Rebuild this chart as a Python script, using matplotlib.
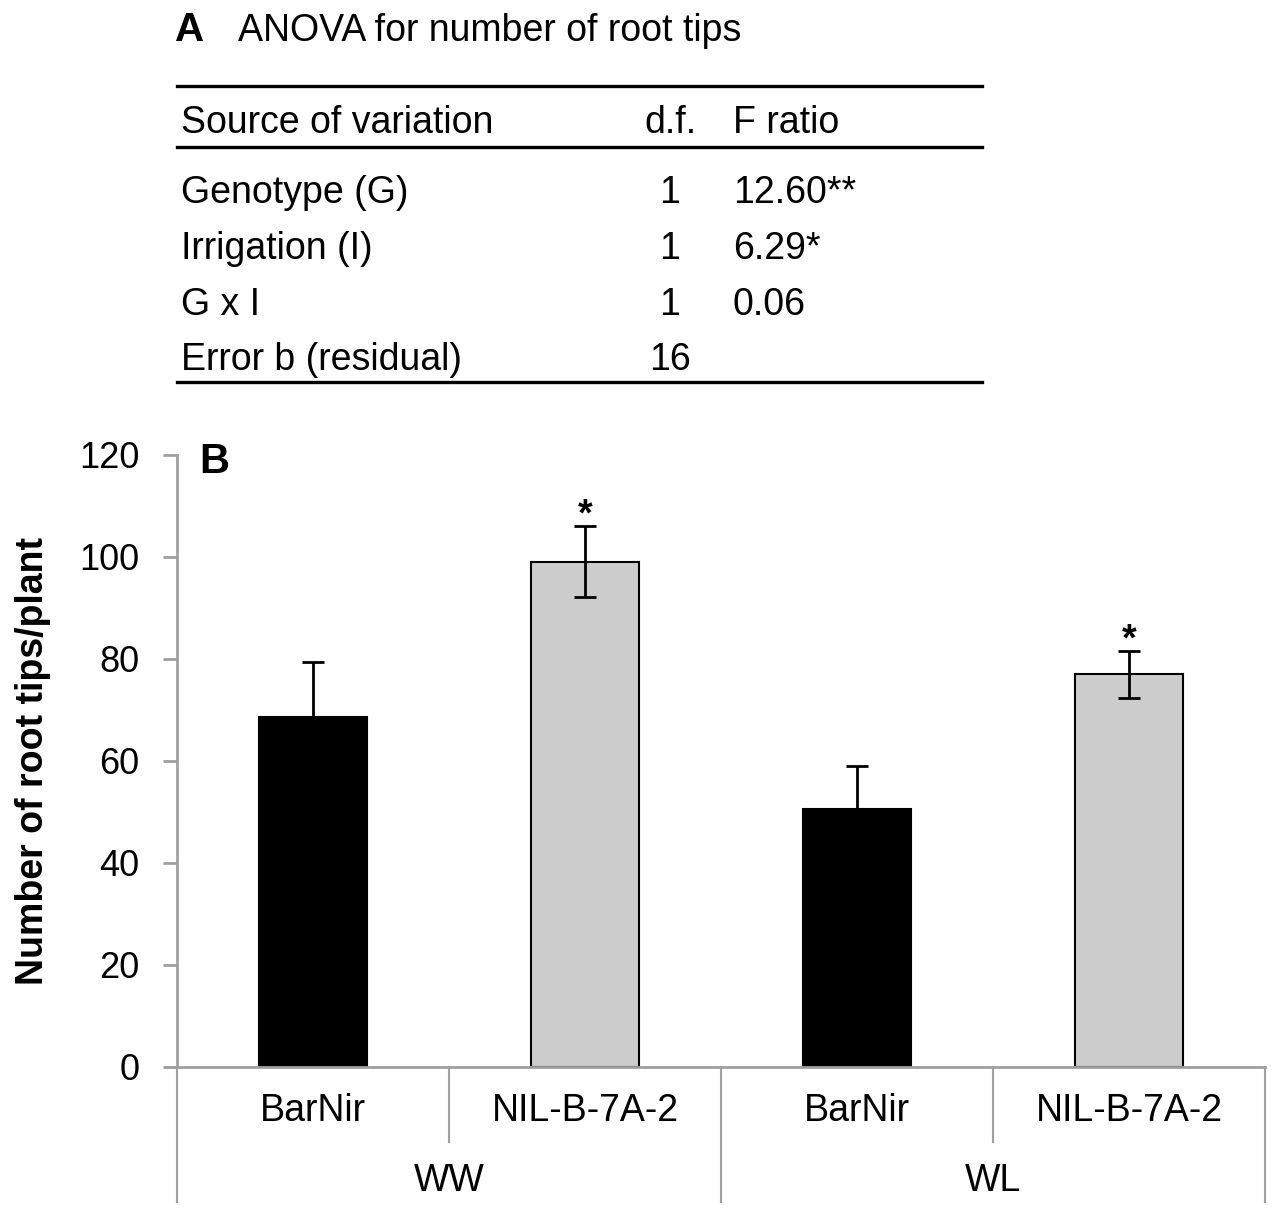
import matplotlib
matplotlib.use("Agg")

import matplotlib.pyplot as plt
from matplotlib.lines import Line2D

plt.rcParams["font.family"] = ["Liberation Sans", "DejaVu Sans"]

# panel A: ANOVA table
anova_title = "ANOVA for number of root tips"
anova_header = ["Source of variation", "d.f.", "F ratio"]
anova_sources = ["Genotype (G)", "Irrigation (I)", "G x I", "Error b (residual)"]
anova_df = ["1", "1", "1", "16"]
anova_f = ["12.60**", "6.29*", "0.06", ""]

# panel B: root tips per plant
irrigation = ["WW", "WL"]
genotypes = ["BarNir", "NIL-B-7A-2"]
means = [68.7, 99.1, 50.6, 77.0]
errors = [10.8, 7.0, 8.4, 4.6]
signif = ["", "*", "", "*"]
bar_colors = ["black", "#cccccc", "black", "#cccccc"]

W, H = 1272, 1216
fig = plt.figure(figsize=(W / 100, H / 100), dpi=100)


def fx(px):
    return px / W


def fy(py):
    return 1 - py / H


# ---- table ----
fig.text(fx(175), fy(30), "A", fontsize=29, fontweight="bold", va="center", ha="left")
fig.text(fx(238), fy(31), anova_title, fontsize=27, va="center", ha="left")
for y in (86, 147, 382):
    fig.add_artist(Line2D([fx(177), fx(982)], [fy(y), fy(y)], color="black", lw=2.4))

fig.text(fx(181), fy(123), anova_header[0], fontsize=27, va="center", ha="left")
fig.text(fx(670), fy(123), anova_header[1], fontsize=27, va="center", ha="center")
fig.text(fx(733), fy(123), anova_header[2], fontsize=27, va="center", ha="left")

row_y = [193, 249, 305, 360]
for y, src, dof, fr in zip(row_y, anova_sources, anova_df, anova_f):
    fig.text(fx(181), fy(y), src, fontsize=27, va="center", ha="left")
    fig.text(fx(670), fy(y), dof, fontsize=27, va="center", ha="center")
    fig.text(fx(733), fy(y), fr, fontsize=27, va="center", ha="left")

# ---- bar chart ----
ax_left, ax_right, ax_top, ax_bottom = 177, 1265, 455, 1067
ax = fig.add_axes([fx(ax_left), fy(ax_bottom), (ax_right - ax_left) / W,
                   (ax_bottom - ax_top) / H])

x_pos = [0.5, 1.5, 2.5, 3.5]
ax.bar(x_pos, means, width=0.4, color=bar_colors, edgecolor="black", linewidth=1.5,
       zorder=2)
ax.errorbar(x_pos, means, yerr=errors, fmt="none", ecolor="black", elinewidth=2,
            capsize=8, capthick=2, zorder=3)
for x, m, e, s in zip(x_pos, means, errors, signif):
    if s:
        ax.text(x, m + e, s, fontsize=27, fontweight="bold",
                ha="center", va="baseline")

ax.set_xlim(0, 4)
ax.set_ylim(0, 120)
ax.set_yticks(range(0, 121, 20))
ax.tick_params(axis="y", labelsize=26, length=10, width=2, color="#a0a0a0", pad=17)
ax.set_xticks([])
for side in ("top", "right"):
    ax.spines[side].set_visible(False)
for side in ("left", "bottom"):
    ax.spines[side].set_color("#a0a0a0")
    ax.spines[side].set_linewidth(2)
ax.spines["bottom"].set_bounds(-0.04, 4)

ax.set_ylabel("Number of root tips/plant", fontsize=27, fontweight="bold", labelpad=20)
ax.text(0.08, 118.6, "B", fontsize=30, fontweight="bold", ha="left", va="center")

# category dividers and labels below the axis
trans = ax.get_xaxis_transform()
h_ax = ax_bottom - ax_top
short_y = -(1142 - ax_bottom) / h_ax
long_y = -(1202 - ax_bottom) / h_ax
for x in (1, 3):
    ax.plot([x, x], [0, short_y], transform=trans, color="#a0a0a0", lw=1.5, clip_on=False)
for x in (0, 2, 4):
    ax.plot([x, x], [0, long_y], transform=trans, color="#a0a0a0", lw=1.5, clip_on=False)

geno_y = -(1111 - ax_bottom) / h_ax
irr_y = -(1181 - ax_bottom) / h_ax
for i, x in enumerate(x_pos):
    ax.text(x, geno_y, genotypes[i % 2], transform=trans, fontsize=27,
            ha="center", va="center")
for i, name in enumerate(irrigation):
    ax.text(1 + 2 * i, irr_y, name, transform=trans, fontsize=27,
            ha="center", va="center")

fig.savefig("out.png", dpi=100)
plt.close(fig)
